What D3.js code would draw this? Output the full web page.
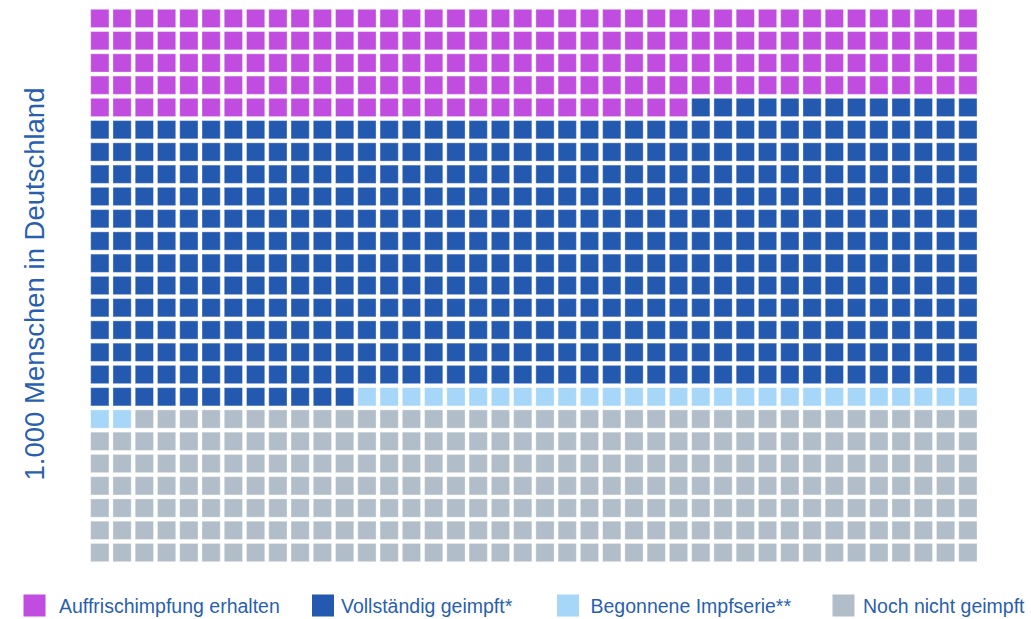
<!DOCTYPE html>
<html>
<head>
<meta charset="utf-8">
<script src="https://cdn.jsdelivr.net/npm/d3@7"></script>
<style>
  html, body { margin: 0; padding: 0; background: #fff; }
  svg { display: block; font-family: "Liberation Sans", Arial, sans-serif; }
</style>
</head>
<body>
<div id="chart"></div>
<script>
// waffle: 1.000 Menschen, 40 x 25
const categories = ['Auffrischimpfung erhalten', 'Vollständig geimpft*', 'Begonnene Impfserie**', 'Noch nicht geimpft'];
const counts = [187, 505, 30, 278];
const colors = ['#c04ddf', '#2459b0', '#a6d6f8', '#b1bdc8'];
const nCols = 40;
const nRows = 25;
const axisLabel = '1.000 Menschen in Deutschland';

const width = 1031, height = 619;
const textColor = '#2a5fb0';

const svg = d3.select('#chart').append('svg')
  .attr('width', width)
  .attr('height', height);

// one cell per person, filled in reading order
const cells = [];
counts.forEach((c, k) => {
  for (let i = 0; i < c; i++) cells.push(k);
});

const x = d3.scaleBand()
  .domain(d3.range(nCols))
  .range([90.7, 977])
  .paddingInner(0.18);

const y = d3.scaleBand()
  .domain(d3.range(nRows))
  .range([9.3, 561.7])
  .paddingInner(0.18);

svg.append('g')
  .selectAll('rect')
  .data(cells)
  .enter().append('rect')
  .attr('x', (d, i) => x(i % nCols))
  .attr('y', (d, i) => y(Math.floor(i / nCols)))
  .attr('width', x.bandwidth())
  .attr('height', y.bandwidth())
  .attr('fill', d => colors[d])
  .attr('stroke', 'rgba(255,255,255,0.35)')
  .attr('stroke-width', 1);

// rotated axis title
svg.append('text')
  .attr('transform', 'translate(44,284) rotate(-90)')
  .attr('text-anchor', 'middle')
  .attr('fill', textColor)
  .style('font-size', '27.5px')
  .text(axisLabel);

// legend
const swatchX = [23.5, 312, 557, 832.5];
const labelX = [59, 341, 590.5, 863];
const legend = svg.append('g')
  .selectAll('g')
  .data(categories)
  .enter().append('g');

legend.append('rect')
  .attr('x', (d, i) => swatchX[i])
  .attr('y', 594.5)
  .attr('width', 22)
  .attr('height', 22)
  .attr('fill', (d, i) => colors[i]);

legend.append('text')
  .attr('x', (d, i) => labelX[i])
  .attr('y', 613)
  .attr('fill', textColor)
  .style('font-size', '19.5px')
  .text(d => d);
</script>
</body>
</html>
